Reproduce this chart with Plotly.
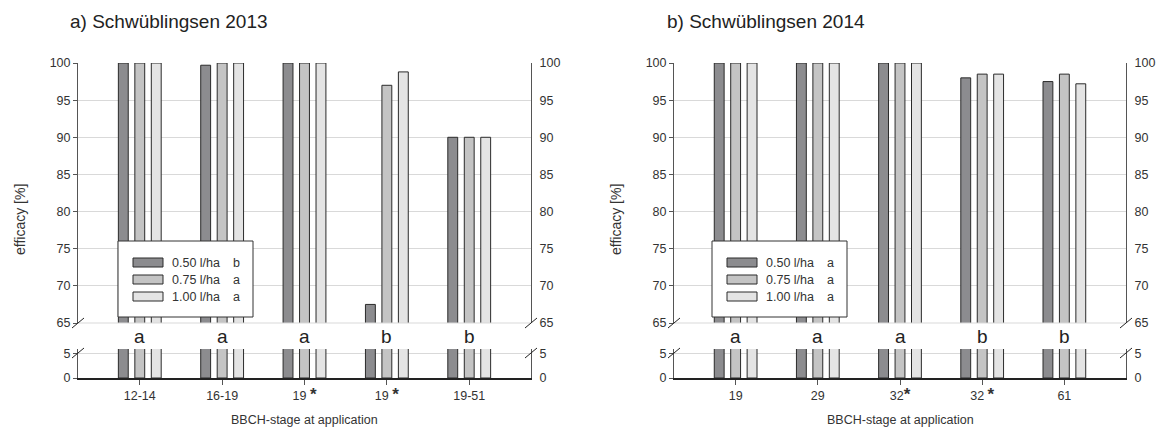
import plotly.graph_objects as go

# ---------------- data ----------------
stage_pos = [0, 1, 2, 3, 4]
STAR = "<span style='font-size:17px'><b>*</b></span>"
stages_2013 = ["12-14", "16-19", "19 " + STAR, "19 " + STAR, "19-51"]
stages_2014 = ["19", "29", "32" + STAR, "32 " + STAR, "61"]

eff_2013_050 = [100, 99.7, 100, 67.5, 90]
eff_2013_075 = [100, 100, 100, 97.0, 90]
eff_2013_100 = [100, 100, 100, 98.8, 90]

eff_2014_050 = [100, 100, 100, 98.0, 97.5]
eff_2014_075 = [100, 100, 100, 98.5, 98.5]
eff_2014_100 = [100, 100, 100, 98.5, 97.2]

letters_2013 = ["a", "a", "a", "b", "b"]
letters_2014 = ["a", "a", "a", "b", "b"]

doses = ["0.50 l/ha", "0.75 l/ha", "1.00 l/ha"]
dose_letters_2013 = ["b", "a", "a"]
dose_letters_2014 = ["a", "a", "a"]

titles = ["a) Schwüblingsen 2013", "b) Schwüblingsen 2014"]

# ---------------- styling ----------------
W, H = 1161, 439
FONT = "Liberation Sans, Arial, sans-serif"
colors = ["#8c8c8f", "#c4c4c4", "#e4e4e4"]
AX = "#555555"
GRID = "#d9d9d9"
TXT = "#333333"


def px(x):
    return x / W


def py(y):
    return 1 - y / H


panels = [
    dict(x0=78, x1=531, stages=stages_2013,
         series=[eff_2013_050, eff_2013_075, eff_2013_100],
         letters=letters_2013, dose_letters=dose_letters_2013,
         legend_x=118, title=titles[0], title_x=68, ytitle_x=20),
    dict(x0=674, x1=1126, stages=stages_2014,
         series=[eff_2014_050, eff_2014_075, eff_2014_100],
         letters=letters_2014, dose_letters=dose_letters_2014,
         legend_x=712, title=titles[1], title_x=665, ytitle_x=616),
]

TOP_Y0, TOP_Y1 = 63, 323      # 100 .. 65
BOT_Y0, BOT_Y1 = 349, 378     # 6 .. 0

fig = go.Figure()
layout = dict(
    width=W, height=H, margin=dict(l=0, r=0, t=0, b=0, autoexpand=False),
    paper_bgcolor="white", plot_bgcolor="white",
    barmode="group", bargap=0.4, bargroupgap=0.4,
    font=dict(family=FONT, size=12, color=TXT),
    showlegend=False,
)
annotations = []
shapes = []

for p, P in enumerate(panels):
    xa = "x" if p == 0 else "x2"
    xkey = "xaxis" if p == 0 else "xaxis2"
    base = 4 * p
    yt, yb, ytr, ybr = [f"y{base + k}" if base + k > 1 else "y" for k in (1, 2, 3, 4)]
    ykeys = [("yaxis" + (str(base + k) if base + k > 1 else "")) for k in (1, 2, 3, 4)]

    for k, vals in enumerate(P["series"]):
        for yax in (yt, yb):
            fig.add_trace(go.Bar(
                x=stage_pos, y=vals, name=doses[k], xaxis=xa, yaxis=yax,
                marker=dict(color=colors[k], line=dict(color="#2a2a2a", width=1)),
                hoverinfo="skip", cliponaxis=True,
            ))
    # invisible traces so the right-hand axes are drawn
    for yax in (ytr, ybr):
        fig.add_trace(go.Scatter(x=[0], y=[None], xaxis=xa, yaxis=yax,
                                 mode="markers", hoverinfo="skip"))

    dom_x = [px(P["x0"]), px(P["x1"])]
    layout[xkey] = dict(
        domain=dom_x, anchor=yb, range=[-0.75, 4.75], automargin=False,
        tickmode="array", tickvals=stage_pos, ticktext=P["stages"],
        ticks="outside", ticklen=5, tickcolor=AX, showgrid=False, zeroline=False,
        showline=True, linecolor="#222222", linewidth=1.5,
        tickfont=dict(size=12.5, color=TXT),
    )
    top_dom = [py(TOP_Y1), py(TOP_Y0)]
    bot_dom = [py(BOT_Y1), py(BOT_Y0)]
    common_top = dict(range=[65, 100], tickmode="array", tickvals=list(range(65, 101, 5)),
                      zeroline=False, showline=True, linecolor=AX, linewidth=1,
                      automargin=False, tickfont=dict(size=12.5, color=TXT))
    common_bot = dict(range=[0, 6], tickmode="array", tickvals=[0, 5],
                      zeroline=False, showline=True, linecolor=AX, linewidth=1,
                      automargin=False, tickfont=dict(size=12.5, color=TXT))
    layout[ykeys[0]] = dict(domain=top_dom, anchor=xa, showgrid=True, gridcolor=GRID,
                            ticks="outside", ticklen=4, tickcolor=AX, **common_top)
    layout[ykeys[1]] = dict(domain=bot_dom, anchor=xa, showgrid=True, gridcolor=GRID,
                            ticks="outside", ticklen=4, tickcolor=AX, **common_bot)
    layout[ykeys[2]] = dict(overlaying=yt, side="right", anchor=xa, showgrid=False,
                            ticks="", ticklabelstandoff=5, **common_top)
    layout[ykeys[3]] = dict(overlaying=yb, side="right", anchor=xa, showgrid=False,
                            ticks="", ticklabelstandoff=5, **common_bot)

    # white band of the axis break
    shapes.append(dict(type="rect", xref="paper", yref="paper",
                       x0=px(P["x0"] - 1), x1=px(P["x1"] + 1),
                       y0=py(BOT_Y0 - 0.5), y1=py(TOP_Y1 + 0.5),
                       fillcolor="white", line=dict(width=0), layer="above"))
    shapes.append(dict(type="line", xref="paper", yref="paper",
                       x0=px(P["x0"]), x1=px(P["x1"]), y0=py(TOP_Y1), y1=py(TOP_Y1),
                       line=dict(color=GRID, width=1), layer="above"))

    # legend (drawn box, swatches and labels)
    lx = P["legend_x"]
    shapes.append(dict(type="rect", xref="paper", yref="paper",
                       x0=px(lx), x1=px(lx + 135), y0=py(317), y1=py(241),
                       fillcolor="white", line=dict(color="#333333", width=1), layer="above"))
    for k in range(3):
        cy = 262.5 + 17 * k
        shapes.append(dict(type="rect", xref="paper", yref="paper",
                           x0=px(lx + 15), x1=px(lx + 45), y0=py(cy + 4.5), y1=py(cy - 4.5),
                           fillcolor=colors[k], line=dict(color="#2a2a2a", width=1), layer="above"))
        annotations.append(dict(x=px(lx + 52), y=py(cy), xref="paper", yref="paper",
                                xanchor="left", yanchor="middle", text=doses[k],
                                showarrow=False, font=dict(size=12.5, color=TXT)))
        annotations.append(dict(x=px(lx + 113), y=py(cy), xref="paper", yref="paper",
                                xanchor="left", yanchor="middle", text=P["dose_letters"][k],
                                showarrow=False, font=dict(size=12.5, color=TXT)))

    # significance letters per stage
    for i, letter in enumerate(P["letters"]):
        annotations.append(dict(x=stage_pos[i], xref=xa, y=py(336), yref="paper",
                                xanchor="center", yanchor="middle",
                                text=letter, showarrow=False,
                                font=dict(size=19, color="#222222")))

    # axis-break marks
    for ax_x in (P["x0"], P["x1"]):
        for yy in (TOP_Y1, 353):
            shapes.append(dict(type="line", xref="paper", yref="paper",
                               x0=px(ax_x - 6), y0=py(yy + 5), x1=px(ax_x + 6), y1=py(yy - 5),
                               line=dict(color="#222222", width=1), layer="above"))

    # titles
    annotations.append(dict(x=px(P["title_x"]), y=py(22), xref="paper", yref="paper",
                            xanchor="left", yanchor="middle", text=P["title"],
                            showarrow=False, font=dict(size=19, color="#222222")))
    annotations.append(dict(x=px(P["ytitle_x"]), y=py(220), xref="paper", yref="paper",
                            xanchor="center", yanchor="middle", text="efficacy [%]",
                            textangle=-90, showarrow=False, font=dict(size=14, color=TXT)))
    annotations.append(dict(x=px((P["x0"] + P["x1"]) / 2), y=py(420), xref="paper", yref="paper",
                            xanchor="center", yanchor="middle", text="BBCH-stage at application",
                            showarrow=False, font=dict(size=12.5, color=TXT)))

layout["annotations"] = annotations
layout["shapes"] = shapes
fig.update_layout(**layout)
fig.write_html("out.html")
